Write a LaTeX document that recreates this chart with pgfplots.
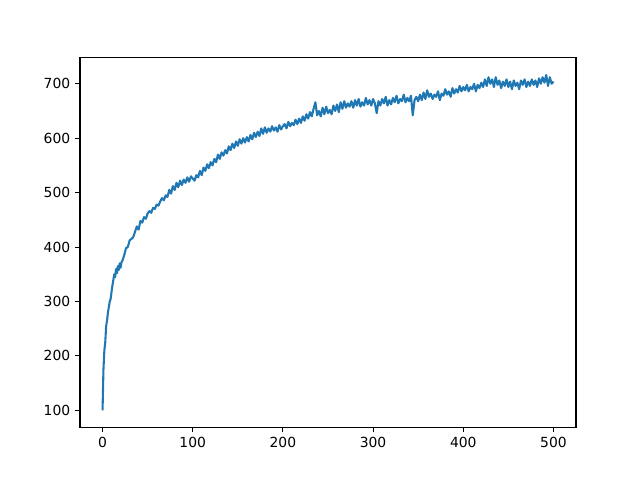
\documentclass[border=0pt]{standalone}
\usepackage{pgfplots}
\pgfplotsset{compat=1.18}
\usepackage{fontspec}
\setmainfont{DejaVu Sans}
\usetikzlibrary{calc}
\definecolor{mplblue}{HTML}{1F77B4}
\begin{document}
\begin{tikzpicture}
\begin{axis}[
  scale only axis,
  width=357.1pt, height=266.1pt,
  xmin=-25, xmax=525, ymin=69, ymax=748,
  xtick={0,100,200,300,400,500},
  ytick={100,200,300,400,500,600,700},
  tick align=outside,
  major tick length=3.5pt,
  tick style={line width=0.8pt, black},
  axis line style={line width=0.8pt},
  xtick pos=bottom, ytick pos=left,
  ticklabel style={font=\fontsize{10pt}{12pt}\selectfont},
  /pgf/number format/assume math mode=true,
  /pgf/number format/set thousands separator={},
]
\addplot[mplblue, line width=1.5pt, line join=round] coordinates {
(0,100)(1,175)(2,210)(3,225)(4,255)(5,265)(6,280)(7,290)(8,300)(9,305)
(10,318)(11,330)(12,340)(13,350)(14,345)(15,360)(16,352)(17,365)(18,358)(19,370)
(20,362)(21,372)(22,375)(24,385)(26,398)(28,400)(30,412)(32,415)(34,418)(36,428)
(38,438)(40,432)(42,448)(44,445)(46,455)(48,452)(50,462)(52,466)(54,463)(56,472)
(58,470)(60,478)(62,476)(64,484)(66,490)(68,486)(70,495)(72,492)(74,505)(76,498)
(78,512)(80,505)(82,518)(84,510)(86,522)(88,514)(90,524)(92,518)(94,528)(96,520)
(98,530)(100,526)(102,522)(104,532)(106,528)(108,540)(110,532)(112,546)(114,540)(116,552)
(118,545)(120,556)(122,550)(124,562)(126,556)(128,570)(130,562)(132,574)(134,568)(136,578)
(138,572)(140,585)(142,578)(144,590)(146,582)(148,594)(150,586)(152,598)(154,590)(156,600)
(158,592)(160,602)(162,594)(164,606)(166,598)(168,610)(170,602)(172,612)(174,604)(176,618)
(178,608)(180,620)(182,610)(184,618)(186,612)(188,622)(190,614)(192,620)(194,612)(196,624)
(198,616)(200,622)(202,626)(204,618)(206,630)(208,622)(210,628)(212,624)(214,634)(216,626)
(218,636)(220,628)(222,640)(224,632)(226,644)(228,636)(230,648)(232,640)(234,654)(236,666)
(238,642)(240,650)(242,640)(244,656)(246,644)(248,658)(250,646)(252,652)(254,644)(256,660)
(258,650)(260,662)(262,648)(264,666)(266,654)(268,668)(270,656)(272,664)(274,658)(276,668)
(278,656)(280,670)(282,660)(284,672)(286,658)(288,666)(290,660)(292,674)(294,662)(296,670)
(298,660)(300,672)(302,664)(304,646)(306,668)(308,660)(310,672)(312,664)(314,676)(316,660)
(318,670)(320,662)(322,674)(324,666)(326,678)(328,664)(330,672)(332,668)(334,680)(336,666)
(338,674)(340,668)(342,678)(344,642)(346,670)(348,676)(350,668)(352,680)(354,670)(356,684)
(358,672)(360,688)(362,676)(364,682)(366,672)(368,680)(370,676)(372,686)(374,670)(376,682)
(378,678)(380,690)(382,680)(384,686)(386,676)(388,692)(390,682)(392,690)(394,684)(396,696)
(398,686)(400,694)(402,688)(404,698)(406,686)(408,694)(410,690)(412,700)(414,686)(416,698)
(418,692)(420,702)(422,694)(424,708)(426,696)(428,712)(430,700)(432,708)(434,694)(436,712)
(438,698)(440,706)(442,692)(444,704)(446,696)(448,708)(450,694)(452,704)(454,690)(456,706)
(458,696)(460,702)(462,690)(464,706)(466,698)(468,708)(470,694)(472,704)(474,696)(476,708)
(478,698)(480,706)(482,694)(484,710)(486,700)(488,712)(490,702)(492,716)(494,696)(496,712)
(498,700)(500,704)
};
\end{axis}
\path ($(current axis.south west)+(-57.6pt,-38.0pt)$) rectangle ($(current axis.north east)+(46.1pt,41.5pt)$);
\end{tikzpicture}
\end{document}
